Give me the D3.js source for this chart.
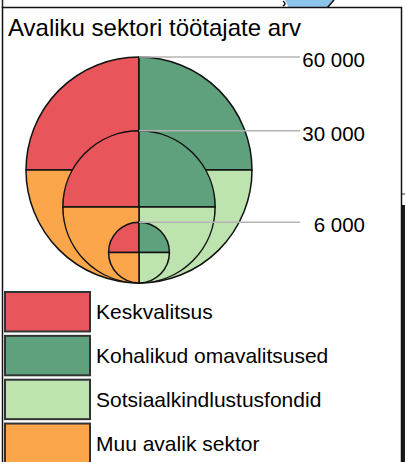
<!DOCTYPE html>
<html>
<head>
<meta charset="utf-8">
<script src="https://cdn.jsdelivr.net/npm/d3@7"></script>
<style>
  body { margin: 0; background: #fff; }
  svg { display: block; font-family: "Liberation Sans", Arial, sans-serif; }
</style>
</head>
<body>
<svg id="chart" width="405" height="462"></svg>
<script>
'use strict';

const title = "Avaliku sektori töötajate arv";
const categories = ["Keskvalitsus", "Kohalikud omavalitsused", "Sotsiaalkindlustusfondid", "Muu avalik sektor"];
const colors = ["#e8565b", "#5fa07d", "#bde3ae", "#fba64a"];
const sizeValues = [60000, 30000, 6000];
const sizeLabels = ["60 000", "30 000", "6 000"];

const svg = d3.select("#chart");

// scrap of the map behind the legend box
svg.append("path")
    .attr("d", "M285,0 L334,0 L327,8 L289,8 Z")
    .attr("fill", "#8cc4ec");
svg.append("path")
    .attr("d", "M334,0 L327,8")
    .attr("stroke", "#111").attr("stroke-width", 1.5).attr("fill", "none");
svg.append("path")
    .attr("d", "M283,1 Q287,4 283,6")
    .attr("stroke", "#111").attr("stroke-width", 1.5).attr("fill", "none");
svg.append("rect")
    .attr("x", 402).attr("y", 205).attr("width", 3).attr("height", 257)
    .attr("fill", "#1a1a1a");
svg.append("line")
    .attr("x1", 402).attr("x2", 405).attr("y1", 194).attr("y2", 194)
    .attr("stroke", "#333").attr("stroke-width", 1);
svg.append("line")
    .attr("x1", 2.5).attr("x2", 2.5).attr("y1", 0).attr("y2", 8)
    .attr("stroke", "#222").attr("stroke-width", 1.5);

// legend box
svg.append("rect")
    .attr("x", 2.5).attr("y", 7.5)
    .attr("width", 399).attr("height", 470)
    .attr("fill", "#fff")
    .attr("stroke", "#111")
    .attr("stroke-width", 1.5);

svg.append("text")
    .attr("x", 8).attr("y", 36)
    .attr("font-size", 24)
    .attr("fill", "#000")
    .text(title);

// proportional circles, split in quarters
const cx = 139;
const baseY = 283;
const rScale = d3.scalePow().exponent(0.57).domain([0, 60000]).range([0, 113]);

const pie = d3.pie().value(() => 1).sort(null)
    .startAngle(-Math.PI / 2).endAngle(Math.PI * 1.5);
const slices = pie(categories);

const circles = svg.append("g");
sizeValues.forEach((v, i) => {
    const r = rScale(v);
    const arc = d3.arc().innerRadius(0).outerRadius(r);
    const g = circles.append("g")
        .attr("transform", "translate(" + cx + "," + (baseY - r) + ")");
    g.selectAll("path")
        .data(slices)
        .enter()
        .append("path")
        .attr("d", arc)
        .attr("fill", (d, j) => colors[j])
        .attr("stroke", "#111")
        .attr("stroke-width", 1.5)
        .attr("stroke-linejoin", "round");
});

// leader lines and size labels
sizeValues.forEach((v, i) => {
    const top = baseY - 2 * rScale(v);
    svg.append("line")
        .attr("x1", cx).attr("x2", 300)
        .attr("y1", top).attr("y2", top)
        .attr("stroke", "#b4b4b4")
        .attr("stroke-width", 1.5);
    svg.append("text")
        .attr("x", 365).attr("y", top + 10)
        .attr("text-anchor", "end")
        .attr("font-size", 20.5)
        .attr("fill", "#000")
        .text(sizeLabels[i]);
});

// colour legend
const legendY = d3.scaleBand().domain(categories).range([292, 463]).paddingInner(0.1).paddingOuter(0);
const legend = svg.append("g");
legend.selectAll("rect")
    .data(categories)
    .enter()
    .append("rect")
    .attr("x", 5).attr("y", d => legendY(d))
    .attr("width", 85).attr("height", legendY.bandwidth())
    .attr("fill", (d, i) => colors[i])
    .attr("stroke", "#333")
    .attr("stroke-width", 2);
legend.selectAll("text")
    .data(categories)
    .enter()
    .append("text")
    .attr("x", 96)
    .attr("y", d => legendY(d) + legendY.bandwidth() / 2 + 7.5)
    .attr("font-size", 21)
    .attr("fill", "#000")
    .text(d => d);
</script>
</body>
</html>
